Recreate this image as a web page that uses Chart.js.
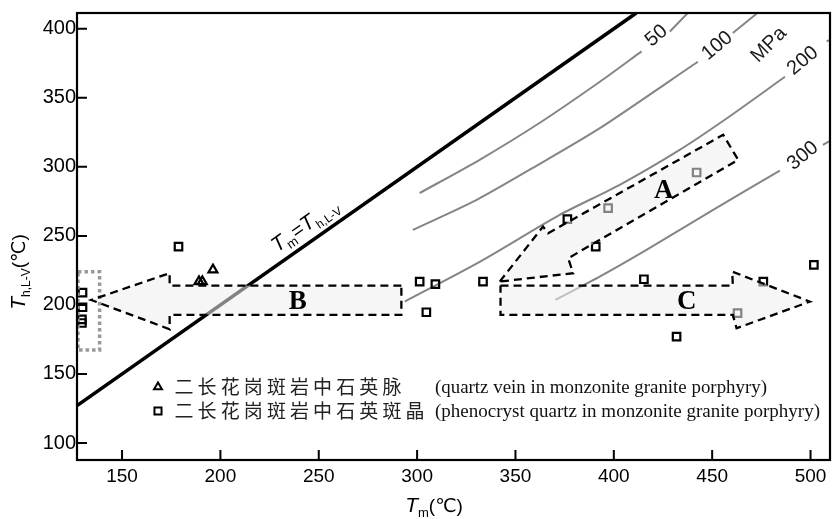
<!DOCTYPE html>
<html><head><meta charset="utf-8">
<script src="https://cdn.jsdelivr.net/npm/chart.js@4.4.0/dist/chart.umd.min.js"></script>
<style>html,body{margin:0;padding:0;background:#fff}#wrap{width:839px;height:519px}</style>
</head><body><div id="wrap"><canvas id="c" width="839" height="519"></canvas></div>
<script>
// ---- data ----
const xTicks=[150,200,250,300,350,400,450,500];
const yTicks=[100,150,200,250,300,350,400];
// quartz vein (triangles)
const veinTm=[189.1,190.8,196.2];
const veinTh=[216.9,216.9,225.4];
// phenocryst quartz (squares)
const phenoTm=[129.9,129.9,129.6,129.6,178.7,301.3,309.3,304.7,333.5,376.4,397.1,442.1,390.8,415.3,431.9,476.0,462.9,501.7];
const phenoTh=[208.9,198.3,189.6,186.9,242.2,216.9,215.0,194.7,216.9,262.1,270.1,295.9,242.2,218.6,177.0,216.9,194.0,229.0];
// Tm = Th line
const eqTm=[127.1,411.4];
const eqTh=[127.1,411.4];
// isochores (MPa)
const iso50Tm=[301.3,331.8,362.4,392.9,414.1,421,428.5,437.6];
const iso50Th=[281.0,305.1,331.9,361.6,383.6,null,398.0,411.4];
const iso100Tm=[297.8,330.3,362.4,392.9,442.7,452,460.5,472.7];
const iso100Th=[254.3,276.1,302.2,328.0,376.1,null,396.9,411.0];
const iso200Tm=[293.7,331.8,372.5,403.0,433.5,456.4,487.0,497,508.2,509.9];
const iso200Th=[202.4,231.2,265.2,287.0,312.3,334.1,365.2,null,390.8,392.0];
const iso300Tm=[370.3,392.8,416.6,450.5,484.4,495,506.3,509.9];
const iso300Th=[203.6,220.5,239.9,268.8,297.3,null,315.9,318.8];
// trend arrows
const arrowATm=[342.0,364.0,366.6,455.6,463.2,376.8,379.3,342.0];
const arrowATh=[216.9,256.7,251.9,323.2,305.1,233.8,223.0,216.9];
const arrowBTm=[292.0,174.2,174.2,134.3,174.2,174.2,292.0,292.0];
const arrowBTh=[214.0,214.0,223.0,203.6,182.4,192.8,192.8,214.0];
const arrowCTm=[342.4,460.5,460.2,499.7,462.4,460.5,342.4,342.4];
const arrowCTh=[214.0,214.0,224.1,202.4,183.1,192.8,192.8,214.0];
const boxTm=[127.6,138.6,138.6,127.6,127.6];
const boxTh=[224.1,224.1,167.4,167.4,224.1];
const isoLabels=[['50',421.7,394.9,-40],['100',452.6,387.7,-40],['MPa',478.8,388.4,-45],['200',496.1,376.8,-40],['300',496.1,308.0,-40]];
const arrowLabels=[['A',425.4,282.6],['B',239.3,202.2],['C',437.1,202.2]];
const legendItems=[['triangle','二长花岗斑岩中石英脉','(quartz vein in monzonite granite porphyry)'],
                   ['rect','二长花岗斑岩中石英斑晶','(phenocryst quartz in monzonite granite porphyry)']];

const pts=(xs,ys)=>xs.map((x,i)=>({x:x,y:ys[i]}));

const lineDs=(d,color,w,order,dash)=>({data:d,showLine:true,borderColor:color,borderWidth:w,pointRadius:0,pointHoverRadius:0,order:order,borderDash:dash||[],tension:0,spanGaps:false,fill:false});

const datasets=[
  lineDs(pts(arrowATm,arrowATh),'#000',2.3,1,[8,5]),
  lineDs(pts(arrowBTm,arrowBTh),'#000',2.3,1,[8,5]),
  lineDs(pts(arrowCTm,arrowCTh),'#000',2.3,1,[8,5]),
  lineDs(pts(boxTm,boxTh),'#999',3.5,1,[3.5,3]),
  {data:pts(phenoTm,phenoTh),pointStyle:'rect',pointRadius:5.3,borderWidth:2.2,borderColor:'#000',backgroundColor:'rgba(0,0,0,0)',order:5},
  {data:pts(veinTm,veinTh),pointStyle:'triangle',pointRadius:5.2,borderWidth:2.2,borderColor:'#000',backgroundColor:'rgba(0,0,0,0)',order:6},
  lineDs(pts(eqTm,eqTh),'#000',3.6,7),
  Object.assign(lineDs(pts(iso50Tm,iso50Th),'#858585',2,8),{tension:0.25}),
  Object.assign(lineDs(pts(iso100Tm,iso100Th),'#858585',2,8),{tension:0.25}),
  Object.assign(lineDs(pts(iso200Tm,iso200Th),'#858585',2,8),{tension:0.25}),
  Object.assign(lineDs(pts(iso300Tm,iso300Th),'#858585',2,8),{tension:0.25})
];
const SQ=4;

function poly(ctx,xs,ys,sx,sy){
  ctx.beginPath();
  xs.forEach((v,i)=>{const X=sx.getPixelForValue(v),Y=sy.getPixelForValue(ys[i]); i?ctx.lineTo(X,Y):ctx.moveTo(X,Y);});
  ctx.closePath();
}
function richWidth(ctx,segs){let w=0;for(const s of segs){ctx.font=s[1];w+=ctx.measureText(s[0]).width;}return w;}
function rich(ctx,segs,x,y){let cx=x;for(const s of segs){ctx.font=s[1];ctx.fillText(s[0],cx,y+(s[2]||0));cx+=ctx.measureText(s[0]).width;}}

const deco={
  id:'deco',
  afterDatasetDraw(chart,args){
    if(args.index!==SQ) return;
    const ctx=chart.ctx,sx=chart.scales.x,sy=chart.scales.y;
    ctx.save();
    ctx.fillStyle='rgba(238,238,238,0.55)';
    [[arrowATm,arrowATh],[arrowBTm,arrowBTh],[arrowCTm,arrowCTh]].forEach(a=>{poly(ctx,a[0],a[1],sx,sy);ctx.fill();});
    ctx.restore();
  },
  afterDraw(chart){
    const ctx=chart.ctx,a=chart.chartArea,sx=chart.scales.x,sy=chart.scales.y;
    ctx.save();
    // frame
    ctx.strokeStyle='#000';ctx.lineWidth=2.2;ctx.setLineDash([]);
    ctx.strokeRect(a.left,a.top,a.right-a.left,a.bottom-a.top);
    // inward ticks
    ctx.lineWidth=2;ctx.beginPath();
    xTicks.forEach(v=>{const p=sx.getPixelForValue(v);ctx.moveTo(p,a.bottom);ctx.lineTo(p,a.bottom-10);});
    yTicks.forEach(v=>{const p=sy.getPixelForValue(v);ctx.moveTo(a.left,p);ctx.lineTo(a.left+10,p);});
    ctx.stroke();
    ctx.fillStyle='#000';
    // isochore labels
    ctx.textAlign='center';ctx.textBaseline='middle';
    ctx.font='20px "Liberation Sans", Arial, sans-serif';
    ctx.fillStyle='#1a1a1a';
    isoLabels.forEach(l=>{ctx.save();ctx.translate(sx.getPixelForValue(l[1]),sy.getPixelForValue(l[2]));ctx.rotate(l[3]*Math.PI/180);ctx.fillText(l[0],0,0);ctx.restore();});
    // arrow letters
    ctx.fillStyle='#000';
    ctx.font='bold 27px "Liberation Serif", "Times New Roman", serif';
    arrowLabels.forEach(l=>ctx.fillText(l[0],sx.getPixelForValue(l[1]),sy.getPixelForValue(l[2])));
    // Tm = Th label along line
    ctx.textAlign='left';ctx.textBaseline='alphabetic';
    const segEq=[['T','italic 21px "Liberation Sans", Arial',0],['m','13px "Liberation Sans", Arial',5],['=','20px "Liberation Sans", Arial',0],['T','italic 21px "Liberation Sans", Arial',0],['h,L-V','12px "Liberation Sans", Arial',5]];
    const p0x=sx.getPixelForValue(242.8),p0y=sy.getPixelForValue(258.0);
    const ang=Math.atan2(sy.getPixelForValue(eqTh[1])-sy.getPixelForValue(eqTh[0]),sx.getPixelForValue(eqTm[1])-sx.getPixelForValue(eqTm[0]));
    ctx.save();ctx.translate(p0x,p0y);ctx.rotate(ang);
    const we=richWidth(ctx,segEq);rich(ctx,segEq,-we/2,7);ctx.restore();
    // axis titles
    const segY=[['T','italic 21px "Liberation Sans", Arial',0],['h,L-V','12px "Liberation Sans", Arial',5],['(℃)','19px "Liberation Sans", "DejaVu Sans", sans-serif',0]];
    ctx.save();ctx.translate(25,272);ctx.rotate(-Math.PI/2);
    const wy=richWidth(ctx,segY);rich(ctx,segY,-wy/2,0);ctx.restore();
    const segX=[['T','italic 21px "Liberation Sans", Arial',0],['m','13px "Liberation Sans", Arial',5],['(℃)','19px "Liberation Sans", "DejaVu Sans", sans-serif',0]];
    const wx=richWidth(ctx,segX);rich(ctx,segX,434-wx/2,512);
    // legend
    legendItems.forEach((it,i)=>{
      const y=387+i*24;
      ctx.strokeStyle='#000';ctx.fillStyle='#fff';ctx.lineWidth=2;ctx.setLineDash([]);
      Chart.helpers.drawPoint(ctx,{pointStyle:it[0],radius:it[0]==='rect'?5:4.6,rotation:0,borderWidth:2},158,y);
      ctx.fillStyle='#222';ctx.textBaseline='middle';ctx.textAlign='center';
      ctx.font='19px "Noto Sans CJK SC", sans-serif';
      [...it[1]].forEach((ch,k)=>ctx.fillText(ch,184+k*23.1,y));
      ctx.textAlign='left';ctx.fillStyle='#111';
      ctx.font='18px "Liberation Serif", "Times New Roman", serif';
      const target=i===0?332:385;
      const w=ctx.measureText(it[2]).width;
      ctx.save();ctx.translate(435,y+1);ctx.scale(target/w,1);ctx.fillText(it[2],0,0);ctx.restore();
    });
    ctx.restore();
  }
};

new Chart(document.getElementById('c'),{
  type:'scatter',
  data:{datasets:datasets},
  options:{
    responsive:false,animation:false,devicePixelRatio:1,
    layout:{padding:{left:0,top:13,right:9,bottom:0}},
    plugins:{legend:{display:false},tooltip:{enabled:false}},
    scales:{
      x:{type:'linear',min:127.1,max:509.9,
        afterBuildTicks:s=>{s.ticks=xTicks.map(v=>({value:v}));},
        afterFit:s=>{s.height=59;},
        grid:{display:false,drawTicks:false},border:{display:false},
        ticks:{padding:5,color:'#000',font:{family:'"Liberation Sans", Arial, sans-serif',size:19}}},
      y:{type:'linear',min:87.7,max:411.4,
        afterBuildTicks:s=>{s.ticks=yTicks.map(v=>({value:v}));},
        afterFit:s=>{s.width=77;},
        grid:{display:false,drawTicks:false},border:{display:false},
        ticks:{padding:1,color:'#000',font:{family:'"Liberation Sans", Arial, sans-serif',size:20}}}
    }
  },
  plugins:[deco]
});
</script></body></html>
